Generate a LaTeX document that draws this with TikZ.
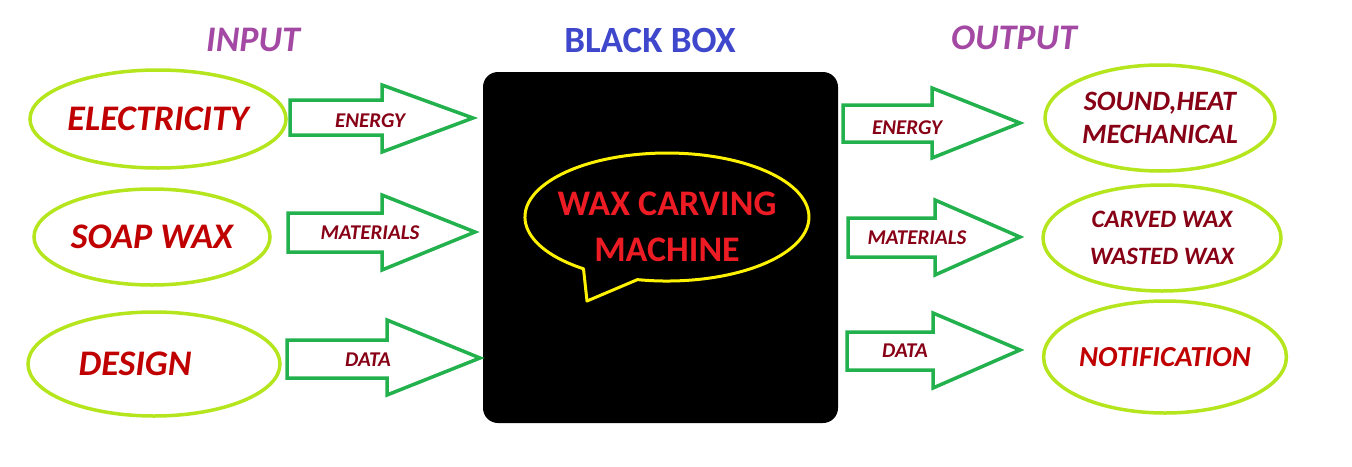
\documentclass[tikz,border=0pt]{standalone}
\usepackage{fontspec}
\setmainfont{Carlito}
\usepackage{tikz}
\usetikzlibrary{shapes.geometric, positioning}

\definecolor{limeline}{HTML}{B5E61D}
\definecolor{arrowgreen}{HTML}{22B14C}
\definecolor{bubbleyellow}{HTML}{FFF200}
\definecolor{wordred}{HTML}{C00000}
\definecolor{darkmaroon}{HTML}{880015}
\definecolor{machinered}{HTML}{ED1C24}
\definecolor{headpurple}{HTML}{A349A4}
\definecolor{headblue}{HTML}{3F48CC}

\begin{document}
\begin{tikzpicture}[
    x=1pt, y=-1pt,
    source/.style={ellipse, draw=limeline, line width=3.5pt, inner sep=0pt, text=wordred, font=\fontsize{36}{40}\selectfont\bfseries\itshape},
    result/.style={ellipse, draw=limeline, line width=3.5pt, inner sep=0pt, align=center, text=darkmaroon, font=\fontsize{28}{33}\selectfont\bfseries\itshape},
    fatarrow/.style={draw=arrowgreen, line width=3.5pt, line join=miter},
    flowlabel/.style={text=darkmaroon, font=\fontsize{21}{24}\selectfont\bfseries\itshape},
    heading/.style={font=\fontsize{36}{40}\selectfont\bfseries},
]
\useasboundingbox[fill=white] (0,0) rectangle (1352,466);

% headings
\node[heading, text=headpurple, font=\fontsize{36}{40}\selectfont\bfseries\itshape] (inhead) at (253,40) {INPUT};
\node[heading, text=headblue, font=\fontsize{37}{40}\selectfont\bfseries] (boxhead) at (650,40) {BLACK BOX};
\node[heading, text=headpurple, font=\fontsize{36}{40}\selectfont\bfseries\itshape] (outhead) at (1014,38) {OUTPUT};

% inputs
\node[source, minimum width=240, minimum height=98] (elec) at (158,119) {ELECTRICITY};
\node[source, minimum width=236, minimum height=96] (soap) at (152,237) {SOAP WAX};
\node[source, minimum width=252, minimum height=104] (design) at (154,364) {DESIGN\hspace*{38pt}};

% black box
\node[fill=black, rounded corners=15pt, minimum width=355, minimum height=351] (box) at (660.5,247.5) {};
\draw[bubbleyellow, line width=3pt, line join=round] (583.5,268.8)
    arc[start angle=126, end angle=462, x radius=142, y radius=64] -- (587,301) -- cycle;
\node[align=center, text=machinered, font=\fontsize{36}{46}\selectfont\bfseries] (machine) at (667,227) {WAX CARVING\\MACHINE};

% outputs
\node[result, minimum width=230, minimum height=106] (sound) at (1160,118) {SOUND,HEAT\\MECHANICAL};
\node[result, minimum width=238, minimum height=106, font=\fontsize{25}{37}\selectfont\bfseries\itshape] (carved) at (1162,238) {CARVED WAX\\WASTED WAX};
\node[result, minimum width=236, minimum height=112, text=wordred, font=\fontsize{29}{32}\selectfont\bfseries\itshape] (notif) at (1165,357) {NOTIFICATION};

% input arrows
\draw[fatarrow] (290,100) -- (382,100) -- (382,85) -- (473,118) -- (382,152) -- (382,135) -- (290,135) -- cycle;
\draw[fatarrow] (288,213) -- (382,213) -- (382,195) -- (475,232) -- (382,270) -- (382,252) -- (288,252) -- cycle;
\draw[fatarrow] (287,340) -- (387,340) -- (387,320) -- (480,358) -- (387,395) -- (387,378) -- (287,378) -- cycle;
\node[flowlabel] (inenergy) at (370,121) {ENERGY};
\node[flowlabel] (inmat) at (370,233) {MATERIALS};
\node[flowlabel] (indata) at (368,360) {DATA};

% output arrows
\draw[fatarrow] (843,105) -- (932,105) -- (932,88) -- (1020,123) -- (932,158) -- (932,142) -- (843,142) -- cycle;
\draw[fatarrow] (848,218) -- (935,218) -- (935,200) -- (1020,237) -- (935,275) -- (935,257) -- (848,257) -- cycle;
\draw[fatarrow] (847,332) -- (933,332) -- (933,313) -- (1020,350) -- (933,388) -- (933,370) -- (847,370) -- cycle;
\node[flowlabel] (outenergy) at (907,128) {ENERGY};
\node[flowlabel] (outmat) at (917,238) {MATERIALS};
\node[flowlabel] (outdata) at (905,351) {DATA};
\end{tikzpicture}
\end{document}
